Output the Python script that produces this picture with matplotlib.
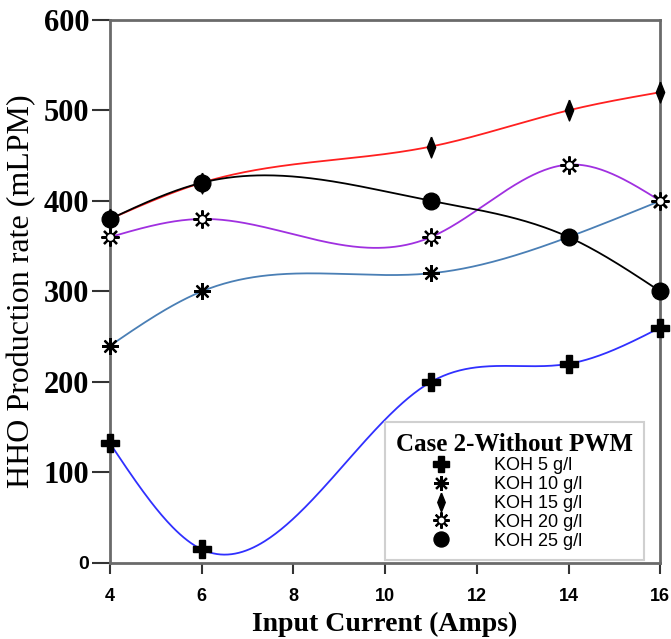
import numpy as np
import matplotlib
matplotlib.use("Agg")
import matplotlib.pyplot as plt
from matplotlib.legend_handler import HandlerTuple

# data
current = [4, 6, 11, 14, 16]
koh5 = [132, 15, 200, 220, 260]
koh10 = [240, 300, 320, 360, 400]
koh15 = [380, 420, 460, 500, 520]
koh20 = [360, 380, 360, 440, 400]
koh25 = [380, 420, 400, 360, 300]
labels = ["KOH 5 g/l", "KOH 10 g/l", "KOH 15 g/l", "KOH 20 g/l", "KOH 25 g/l"]
colors = ["#3030ff", "#4a7fb5", "#ff2020", "#a030e0", "#000000"]


def spline(x, y, n=300):
    # natural cubic spline through the points
    x = np.asarray(x, float)
    y = np.asarray(y, float)
    k = len(x)
    h = np.diff(x)
    A = np.zeros((k, k))
    b = np.zeros(k)
    A[0, 0] = A[-1, -1] = 1
    for i in range(1, k - 1):
        A[i, i - 1] = h[i - 1]
        A[i, i] = 2 * (h[i - 1] + h[i])
        A[i, i + 1] = h[i]
        b[i] = 6 * ((y[i + 1] - y[i]) / h[i] - (y[i] - y[i - 1]) / h[i - 1])
    M = np.linalg.solve(A, b)
    xs = np.linspace(x[0], x[-1], n)
    ys = np.empty_like(xs)
    for j, t in enumerate(xs):
        i = min(np.searchsorted(x, t, side="right") - 1, k - 2)
        a, c = x[i + 1] - t, t - x[i]
        ys[j] = (M[i] * a ** 3 + M[i + 1] * c ** 3) / (6 * h[i]) \
            + (y[i] / h[i] - M[i] * h[i] / 6) * a \
            + (y[i + 1] / h[i] - M[i + 1] * h[i] / 6) * c
    return xs, ys


fig = plt.figure(figsize=(6.71, 6.39), dpi=100)
ax = fig.add_axes([0.164, 0.119, 0.82, 0.85])

series = [koh5, koh10, koh15, koh20, koh25]
for s, c in zip(series, colors):
    xs, ys = spline(current, s)
    ax.plot(xs, ys, color=c, lw=1.3, zorder=2)

thin_diamond = [(0, 1), (0.4, 0), (0, -1), (-0.4, 0), (0, 1)]
mk = dict(ls="none", clip_on=False)
h1, = ax.plot(current, koh5, marker="P", ms=13, color="black", zorder=3, **mk)
h2, = ax.plot(current, koh10, marker=(8, 2, 0), ms=12, mew=1.6,
              color="black", zorder=3, **mk)
h3, = ax.plot(current, koh15, marker=thin_diamond, ms=15, mfc="black",
              mec="black", mew=1, zorder=3, **mk)
h4, = ax.plot(current, koh20, marker=(8, 2, 0), ms=13, mew=1.6,
              color="black", zorder=3, **mk)
h4b, = ax.plot(current, koh20, marker="o", ms=6, mfc="white",
               mec="black", mew=1.2, zorder=4, **mk)
h5, = ax.plot(current, koh25, marker="o", ms=12, color="black", zorder=3, **mk)

ax.set_xlim(4, 16)
ax.set_ylim(0, 600)
ax.set_xticks([4, 6, 8, 10, 12, 14, 16])
ax.set_yticks([0, 100, 200, 300, 400, 500, 600])

for sp in ax.spines.values():
    sp.set_color("#6a6a6a")
    sp.set_linewidth(2)

ax.tick_params(axis="y", direction="out", length=13, width=1.5,
               color="#333333", pad=2)
ax.tick_params(axis="x", direction="out", length=8, width=1.5,
               color="#333333", pad=10)
ax.set_xticklabels(["4", "6", "8", "10", "12", "14", "16"],
                   family="Liberation Sans", fontsize=13, fontweight="bold")
ax.set_yticklabels(["0", "100", "200", "300", "400", "500", "600"],
                   family="Liberation Serif", fontweight="bold", fontsize=22)
ax.get_yticklabels()[0].set_fontsize(14)
ax.get_yticklabels()[0].set_family("Liberation Sans")

ax.set_xlabel("Input Current (Amps)", family="Liberation Serif",
              fontweight="bold", fontsize=20, labelpad=5)
ax.set_ylabel("HHO Production rate (mLPM)", family="Liberation Serif",
              fontsize=23, labelpad=5)

leg = ax.legend([h1, h2, h3, (h4, h4b), h5], labels,
                handler_map={tuple: HandlerTuple(ndivide=1)},
                loc="lower right", bbox_to_anchor=(0.987, -0.012),
                title="Case 2-Without PWM", frameon=True, fancybox=False,
                edgecolor="#d0d0d0", framealpha=1, borderpad=0.6,
                handletextpad=0.4, labelspacing=0.1, handlelength=5.0,
                markerscale=0.9, alignment="left",
                prop={"family": "Liberation Sans", "size": 13})
leg.get_title().set_fontfamily("Liberation Serif")
leg.get_title().set_fontweight("bold")
leg.get_title().set_fontsize(18)
leg.get_frame().set_linewidth(1.5)

fig.savefig("out.png", dpi=100)
